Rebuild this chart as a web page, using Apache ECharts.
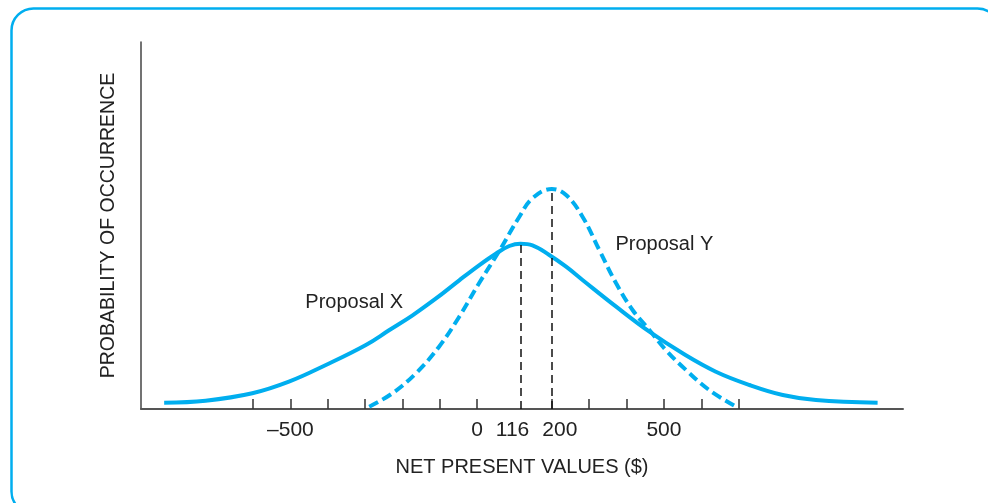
<!DOCTYPE html>
<html>
<head>
<meta charset="utf-8">
<script src="https://cdn.jsdelivr.net/npm/echarts@6/dist/echarts.min.js"></script>
<style>html,body{margin:0;padding:0;background:#fff;}#c{width:988px;height:503px;}</style>
</head>
<body>
<div id="c"></div>
<script>
// Net present values ($) and relative probability heights
var npvX  = [-838, -727, -602, -504, -405, -298, -236, -173, -111, -48, 5, 50, 86, 116, 148, 193, 238, 282, 372, 461, 550, 639, 729, 818, 907, 1072];
var probX = [6.3, 8.3, 15.7, 27.3, 44, 64, 78.7, 93.7, 110.3, 128.7, 143.7, 155.3, 163, 165.3, 163.7, 154, 142.3, 129, 102.3, 77.3, 55.7, 37.3, 24, 14, 9, 6.3];
var npvY  = [-289, -227, -164, -102, -48, 5, 59, 113, 148, 200, 238, 282, 327, 372, 416, 461, 505, 559, 621, 693];
var probY = [2.3, 15.7, 35.7, 62.3, 92.3, 125.7, 158, 192.3, 210.7, 220, 214, 192.3, 159, 125.7, 99, 79, 59, 39, 19, 2.3];
var tickValues  = [-600, -500, -400, -300, -200, -100, 0, 200, 300, 400, 500, 600, 700];
var labelValues = [-500, 0, 116, 200, 500];
var meanX = 116, peakX = 165.3;
var meanY = 200, peakY = 220;
var nameX = 'Proposal X', nameXPos = [-329, 107];
var nameY = 'Proposal Y', nameYPos = [501, 165];

var font = '"Liberation Sans", Arial, sans-serif';
var blue = '#00AEEF';
function pairs(xs, ys){ return xs.map(function(x,i){ return [x, ys[i]]; }); }

var chart = echarts.init(document.getElementById('c'), null, {renderer:'canvas'});
chart.setOption({
  animation: false,
  backgroundColor: '#fff',
  graphic: [{
    type: 'rect', left: 9, top: 6, z: -1,
    shape: { width: 988, height: 505, r: 22 },
    style: { fill: 'none', stroke: blue, lineWidth: 2.5 }
  }],
  grid: { left: 141, right: 85, top: 42, bottom: 94 },
  xAxis: {
    type: 'value', min: -900, max: 1140,
    name: 'NET PRESENT VALUES ($)', nameLocation: 'middle', nameGap: 48,
    nameTextStyle: { fontFamily: font, fontSize: 20, color: '#222' },
    axisLine: { show: true, onZero: false, lineStyle: { color: '#555', width: 2 } },
    axisTick: { show: true, inside: true, length: 10, customValues: tickValues, lineStyle: { color: '#333', width: 1.5 } },
    axisLabel: {
      show: true, customValues: labelValues, margin: 11,
      fontFamily: font, fontSize: 21, color: '#222',
      formatter: function(v){
        if (v === 116) return '{l|116}';
        if (v === 200) return '{r|200}';
        if (v < 0) return '\u2013' + Math.abs(v);
        return String(v);
      },
      rich: {
        l: { fontFamily: font, fontSize: 21, color: '#222', padding: [0, 16, 0, 0] },
        r: { fontFamily: font, fontSize: 21, color: '#222', padding: [0, 0, 0, 16] }
      }
    },
    splitLine: { show: false }
  },
  yAxis: {
    type: 'value', min: 0, max: 367,
    name: 'PROBABILITY OF OCCURRENCE', nameLocation: 'middle', nameGap: 22,
    nameTextStyle: { fontFamily: font, fontSize: 19.5, color: '#222' },
    axisLine: { show: true, onZero: false, lineStyle: { color: '#444', width: 1.5 } },
    axisTick: { show: false }, axisLabel: { show: false }, splitLine: { show: false }
  },
  series: [
    {
      type: 'line', name: nameX, data: pairs(npvX, probX), smooth: 0.4,
      showSymbol: false, symbol: 'none',
      lineStyle: { color: blue, width: 4 },
      markLine: {
        silent: true, symbol: ['none','none'], label: { show: false },
        lineStyle: { color: '#111', width: 1.5, type: [8, 5] },
        data: [[{ coord: [meanX, 0] }, { coord: [meanX, peakX] }]]
      },
      markPoint: {
        symbol: 'circle', symbolSize: 0,
        label: { show: true, formatter: nameX, fontFamily: font, fontSize: 20, color: '#222', position: 'inside' },
        data: [{ coord: nameXPos }]
      }
    },
    {
      type: 'line', name: nameY, data: pairs(npvY, probY), smooth: 0.4,
      showSymbol: false, symbol: 'none',
      lineStyle: { color: blue, width: 4, type: [10, 5] },
      markLine: {
        silent: true, symbol: ['none','none'], label: { show: false },
        lineStyle: { color: '#111', width: 1.5, type: [8, 5] },
        data: [[{ coord: [meanY, 0] }, { coord: [meanY, peakY] }]]
      },
      markPoint: {
        symbol: 'circle', symbolSize: 0,
        label: { show: true, formatter: nameY, fontFamily: font, fontSize: 20, color: '#222', position: 'inside' },
        data: [{ coord: nameYPos }]
      }
    }
  ]
});
</script>
</body>
</html>
